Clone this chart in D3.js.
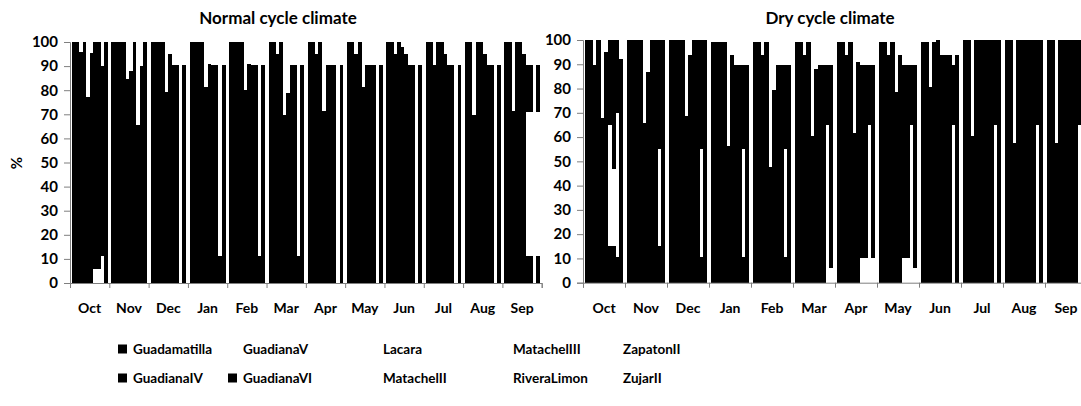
<!DOCTYPE html>
<html>
<head>
<meta charset="utf-8">
<script src="https://cdn.jsdelivr.net/npm/d3@7"></script>
<style>
  body { margin: 0; background: #fff; }
  svg text { font-family: Lato, "Open Sans", sans-serif; fill: #000; }
</style>
</head>
<body>
<svg id="chart"></svg>
<script>
let w = 1081;
let h = 406;

let months = ["Oct","Nov","Dec","Jan","Feb","Mar","Apr","May","Jun","Jul","Aug","Sep"];
let reservoirs = ["Guadamatilla","GuadianaIV","GuadianaV","GuadianaVI","Lacara",
                  "MatachelII","MatachelIII","RiveraLimon","ZapatonII","ZujarII"];
let yTicks = [0,10,20,30,40,50,60,70,80,90,100];

// top of each bar (%), one row per month, one value per reservoir
let normalTop = [
  [100,100,96,100,77,95.5,100,100,90,100],
  [100,100,100,100,84.5,88,100,65.5,90,100],
  [100,100,100,100,79.4,95,90.5,90.5,0,90.5],
  [100,100,100,100,81.5,91,90.5,90.5,11,90.5],
  [100,100,100,100,80,91,90.5,90.5,11,90.5],
  [100,100,95,100,69.7,78.7,90.5,90.5,11,90.5],
  [100,100,95,100,71.4,90.5,90.5,90.5,0,90.5],
  [100,100,95,100,81.5,90.5,90.5,90.5,0,90.5],
  [100,100,95,100,98,95,90.5,90.5,0,90.5],
  [100,100,90.5,100,100,95,90.5,90.5,0,90.5],
  [100,100,69.7,100,100,95,90.5,90.5,0,90.5],
  [100,100,71.4,100,100,95,90.5,90.5,0,90.5]
];
// empty stretch inside a bar: [month, reservoir, from, to]
let normalHoles = [
  [0,6,0,6],[0,7,0,6],[0,8,0,11],
  [11,6,11,71],[11,7,11,71],[11,9,11,71]
];

let dryTop = [
  [100,100,89.7,100,67.7,95.2,100,100,100,92],
  [100,100,100,100,66,87,100,100,100,100],
  [100,100,100,100,68.7,94,100,100,100,100],
  [99,99,99,99,56.3,94,89.7,89.7,89.7,89.7],
  [99,99,94,99,47.8,79.4,89.7,89.7,89.7,89.7],
  [99,99,94,99,60.4,88,89.7,89.7,89.7,89.7],
  [99,99,94,99,61.5,90.8,89.7,89.7,89.7,89.7],
  [99,99,94,99,78.7,94,89.7,89.7,89.7,89.7],
  [99,99,80.8,99,100,94,94,94,89.7,94],
  [100,100,60.4,100,100,100,100,100,100,100],
  [100,100,57.4,100,100,100,100,100,100,100],
  [100,100,57.7,100,100,100,100,100,100,100]
];
let dryHoles = [
  [0,6,15,65],[0,7,15,47],[0,8,10.7,70],
  [1,8,15,55],[2,8,10.7,55],[3,8,10.7,55],[4,8,10.7,55],
  [5,8,0,65],[5,9,0,6],
  [6,6,0,10],[6,7,0,10],[6,8,0,65],[6,9,0,10],
  [7,6,0,10],[7,7,0,10],[7,8,0,65],[7,9,0,6],
  [8,8,0,65],[9,8,0,65],[10,8,0,65],[11,8,0,65]
];

let legendColor = ["#000","#000","#fff","#000","#fff","#fff","#fff","#fff","#fff","#fff"];

let svg = d3.select("#chart").attr("width", w).attr("height", h);

// turn top values + holes into black segments
function segments(tops, holes) {
  let out = [];
  tops.forEach((row, m) => {
    row.forEach((top, r) => {
      let hole = holes.find((d) => d[0] === m && d[1] === r);
      if (hole) {
        if (hole[2] > 0) out.push({m: m, r: r, lo: 0, hi: hole[2]});
        if (top > hole[3]) out.push({m: m, r: r, lo: hole[3], hi: top});
      } else if (top > 0) {
        out.push({m: m, r: r, lo: 0, hi: top});
      }
    });
  });
  return out;
}

function drawPanel(title, tops, holes, x0, x1, y0, y1, titleX) {
  let g = svg.append("g");

  let xScale = d3.scaleBand().domain(months).range([x0, x1])
    .paddingInner(0.1).paddingOuter(0.05);
  let rScale = d3.scaleBand().domain(d3.range(reservoirs.length))
    .range([0, xScale.bandwidth()]);
  let yScale = d3.scaleLinear().domain([0, 100]).range([y1, y0]);
  let edgeScale = d3.scaleLinear().domain([0, months.length]).range([x0, x1]);

  g.selectAll("rect.bar")
    .data(segments(tops, holes))
    .enter()
    .append("rect")
    .attr("class", "bar")
    .attr("x", (d) => xScale(months[d.m]) + rScale(d.r))
    .attr("y", (d) => yScale(d.hi))
    .attr("width", rScale.bandwidth() + 0.3)
    .attr("height", (d) => yScale(d.lo) - yScale(d.hi))
    .attr("fill", "#000")
    .attr("shape-rendering", "crispEdges");

  let yAxis = d3.axisLeft(yScale).tickValues(yTicks).tickSize(6).tickPadding(6);
  let yg = g.append("g").attr("transform", `translate(${x0},0)`).call(yAxis);
  yg.selectAll("text").style("font-size", "15px").style("font-weight", "bold");

  let edgeAxis = d3.axisBottom(edgeScale).tickValues(d3.range(months.length + 1))
    .tickFormat("").tickSize(5);
  g.append("g").attr("transform", `translate(0,${y1})`).call(edgeAxis);

  let xAxis = d3.axisBottom(xScale).tickSize(0).tickPadding(20);
  let xg = g.append("g").attr("transform", `translate(0,${y1})`).call(xAxis);
  xg.select(".domain").remove();
  xg.selectAll("text").style("font-size", "14px").style("font-weight", "bold");

  g.selectAll(".domain, .tick line").attr("stroke", "#7f7f7f");

  g.append("text")
    .attr("x", titleX).attr("y", 24)
    .attr("text-anchor", "middle")
    .style("font-size", "17px").style("font-weight", "bold")
    .text(title);
}

drawPanel("Normal cycle climate", normalTop, normalHoles, 70, 541.7, 42, 283, 278);
drawPanel("Dry cycle climate", dryTop, dryHoles, 583, 1087, 40, 282.7, 830);

svg.append("text")
  .attr("transform", "translate(22,163) rotate(-90)")
  .attr("text-anchor", "middle")
  .style("font-size", "15px").style("font-weight", "bold")
  .text("%");

// legend, two rows, column-major
let legendCols = [118, 228, 368, 498, 608];
let legendRows = [349, 378];
let lg = svg.append("g");
reservoirs.forEach((name, i) => {
  let cx = legendCols[Math.floor(i / 2)];
  let cy = legendRows[i % 2];
  lg.append("rect")
    .attr("x", cx).attr("y", cy - 4.5)
    .attr("width", 9).attr("height", 9)
    .attr("fill", legendColor[i]);
  lg.append("text")
    .attr("x", cx + 15).attr("y", cy)
    .attr("dy", "0.35em")
    .style("font-size", "13.5px").style("font-weight", "bold")
    .text(name);
});
</script>
</body>
</html>
